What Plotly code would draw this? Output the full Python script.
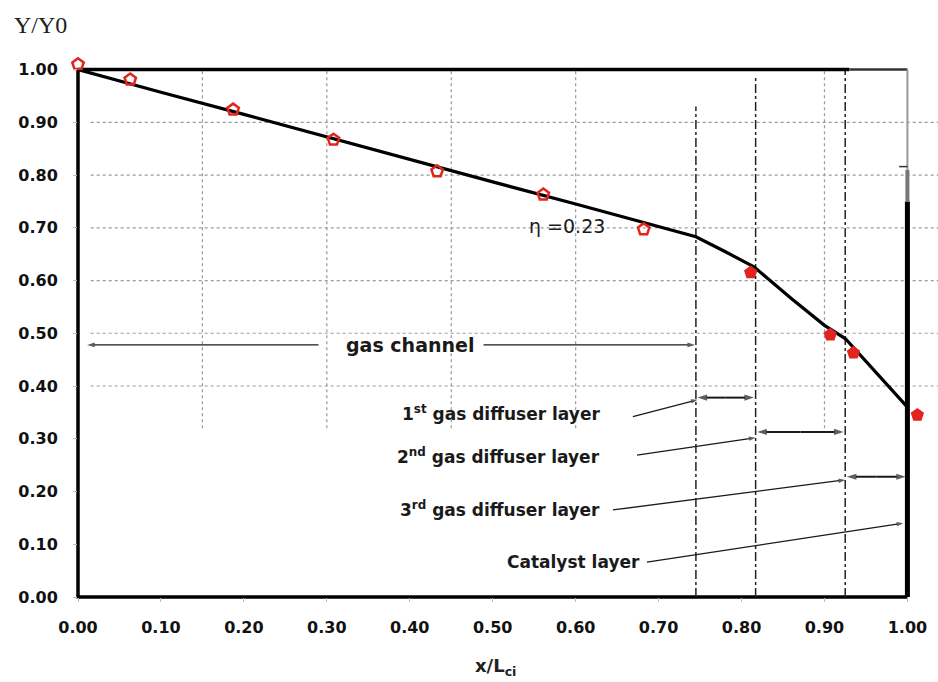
import plotly.graph_objects as go

# ---- data ----
curve_x = [0.0, 0.05, 0.10, 0.20, 0.30, 0.40, 0.50, 0.60, 0.70, 0.745, 0.78, 0.815, 0.86, 0.90, 0.925, 0.96, 1.0]
curve_y = [1.0, 0.978, 0.957, 0.915, 0.872, 0.830, 0.787, 0.745, 0.702, 0.683, 0.655, 0.626, 0.566, 0.515, 0.490, 0.430, 0.360]

pts_x = [0.0, 0.063, 0.187, 0.308, 0.433, 0.561, 0.682, 0.811, 0.907, 0.935, 1.012]
pts_y = [1.01, 0.981, 0.924, 0.867, 0.807, 0.763, 0.697, 0.615, 0.497, 0.463, 0.345]
pts_filled = [False, False, False, False, False, False, False, True, True, True, True]

layer_bounds = [0.745, 0.817, 0.925, 1.0]
layer_names = ["1<sup>st</sup> gas diffuser layer", "2<sup>nd</sup> gas diffuser layer",
               "3<sup>rd</sup> gas diffuser layer", "Catalyst layer"]
layer_label_pos = [(0.632, 0.349), (0.632, 0.267), (0.632, 0.167), (0.68, 0.066)]
layer_leaders = [((0.669, 0.342), (0.747, 0.374)),
                 ((0.674, 0.269), (0.817, 0.302)),
                 ((0.645, 0.165), (0.925, 0.222)),
                 ((0.686, 0.066), (0.995, 0.140))]
layer_span_y = [0.378, 0.313, 0.228]

channel_y = 0.478
channel_arrows = [(0.29, 0.011), (0.489, 0.744)]

y_ticks = [0.0, 0.1, 0.2, 0.3, 0.4, 0.5, 0.6, 0.7, 0.8, 0.9, 1.0]
x_ticks = [0.0, 0.1, 0.2, 0.3, 0.4, 0.5, 0.6, 0.7, 0.8, 0.9, 1.0]
grid_x = [0.15, 0.30, 0.45, 0.60, 0.90]
grid_y = [0.4, 0.5, 0.6, 0.7, 0.8, 0.9]

X_MAX = 1.02
Y_MAX = 1.02

RED = "#e3241e"
INK = "#1a1a1a"
fig = go.Figure()


def add_arrow(x0, y0, x1, y1, width=1.3, size=8):
    fig.add_trace(go.Scatter(
        x=[x0, x1], y=[y0, y1], mode="lines+markers",
        line=dict(color=INK, width=width),
        marker=dict(symbol=["circle", "arrow"], size=[0, size], angleref="previous", color=INK,
                    line=dict(width=0)),
        showlegend=False, hoverinfo="skip", cliponaxis=False))


fig.add_trace(go.Scatter(x=curve_x, y=curve_y, mode="lines",
                         line=dict(color="black", width=3.2), showlegend=False,
                         cliponaxis=False))
fig.add_trace(go.Scatter(
    x=[x for x, f in zip(pts_x, pts_filled) if not f],
    y=[y for y, f in zip(pts_y, pts_filled) if not f],
    mode="markers", marker=dict(symbol="pentagon-open", size=12, color=RED, line=dict(width=2.5, color=RED)),
    showlegend=False, cliponaxis=False))
fig.add_trace(go.Scatter(
    x=[x for x, f in zip(pts_x, pts_filled) if f],
    y=[y for y, f in zip(pts_y, pts_filled) if f],
    mode="markers", marker=dict(symbol="pentagon", size=14, color=RED),
    showlegend=False, cliponaxis=False))

for tail, head in channel_arrows:
    add_arrow(tail, channel_y, head, channel_y, width=1.3, size=8)

for i in range(4):
    (tx, ty), (hx, hy) = layer_leaders[i]
    add_arrow(tx, ty, hx, hy, width=1.3, size=7)
    if i < 3:
        a, b = layer_bounds[i], layer_bounds[i + 1]
        mid = (a + b) / 2
        add_arrow(mid, layer_span_y[i], a + 0.002, layer_span_y[i], width=2, size=10)
        add_arrow(mid, layer_span_y[i], b - 0.002, layer_span_y[i], width=2, size=10)

px1 = 1.0 / X_MAX   # paper position of x = 1.0
py1 = 1.0 / Y_MAX   # paper position of y = 1.0

shapes = []
for gx in grid_x:
    shapes.append(dict(type="line", xref="x", yref="y", x0=gx, x1=gx, y0=0.32, y1=1.0,
                       line=dict(color="#9a9a9a", width=1.2, dash="dot"), layer="below"))
for gy in grid_y:
    shapes.append(dict(type="line", xref="paper", yref="y", x0=0.015, x1=1.02, y0=gy, y1=gy,
                       line=dict(color="#9a9a9a", width=1.2, dash="dot"), layer="below"))
tops = [0.93, 0.985, 1.0]
for bx, top in zip(layer_bounds[:3], tops):
    shapes.append(dict(type="line", xref="x", yref="y", x0=bx, x1=bx, y0=0, y1=top,
                       line=dict(color="#222", width=1.5, dash="dashdot"), layer="below"))
# frame
shapes += [
    dict(type="line", xref="paper", yref="paper", x0=0, x1=px1, y0=0, y1=0,
         line=dict(color="black", width=3.5), layer="below"),
    dict(type="line", xref="paper", yref="paper", x0=0, x1=0, y0=-0.003, y1=py1,
         line=dict(color="black", width=3.5), layer="below"),
    dict(type="line", xref="x", yref="y", x0=0, x1=0.93, y0=1.0, y1=1.0,
         line=dict(color="black", width=3.5), layer="below"),
    dict(type="line", xref="x", yref="y", x0=0.93, x1=1.0, y0=1.0, y1=1.0,
         line=dict(color="#333", width=2.5), layer="below"),
    dict(type="line", xref="x", yref="y", x0=1.0, x1=1.0, y0=0, y1=0.75,
         line=dict(color="black", width=5), layer="below"),
    dict(type="line", xref="x", yref="y", x0=1.0, x1=1.0, y0=0.75, y1=0.81,
         line=dict(color="#777", width=4), layer="below"),
    dict(type="line", xref="x", yref="y", x0=1.0, x1=1.0, y0=0.81, y1=1.0,
         line=dict(color="#999", width=2), layer="below"),
    dict(type="line", xref="x", yref="y", x0=0.99, x1=1.0, y0=0.816, y1=0.816,
         line=dict(color="#333", width=1.5), layer="below"),
]

ann = []
TXT = dict(family="DejaVu Sans", size=17, color=INK, weight="bold")
ann.append(dict(x=0.589, y=0.704, xref="x", yref="y", text="η =0.23", showarrow=False,
                font=dict(family="DejaVu Sans", size=19, color=INK)))
ann.append(dict(x=0.40, y=channel_y, xref="x", yref="y", text="gas channel", showarrow=False,
                font=dict(family="DejaVu Sans", size=19, color=INK, weight="bold")))
for i, name in enumerate(layer_names):
    lx, ly = layer_label_pos[i]
    ann.append(dict(x=lx, y=ly, xref="x", yref="y", text=name, showarrow=False,
                    xanchor="right", font=TXT))

plot_w = 829 * X_MAX
plot_h = 527 * Y_MAX
ann.append(dict(x=0.0, y=py1, xref="paper", yref="paper", xshift=-38, yshift=45, text="Y/Y0",
                showarrow=False, yanchor="middle", xanchor="center",
                font=dict(family="Liberation Serif", size=24, color="#222")))
ann.append(dict(x=0.503 / X_MAX, y=0.0, xref="paper", yref="paper", yshift=-70, text="x/L<sub>ci</sub>",
                showarrow=False, yanchor="middle", xanchor="center",
                font=dict(family="DejaVu Sans", size=18, color="#222", weight="bold")))

fig.update_layout(
    width=938, height=682,
    margin=dict(l=78, r=938 - 78 - plot_w, t=682 - 85 - plot_h, b=85),
    paper_bgcolor="white", plot_bgcolor="white",
    shapes=shapes, annotations=ann, showlegend=False,
    xaxis=dict(range=[0, X_MAX], tickvals=x_ticks, ticktext=[f"{v:.2f}" for v in x_ticks],
               showgrid=False, zeroline=False, showline=False,
               ticks="outside", ticklen=4, tickcolor="#bbb", ticklabelstandoff=12,
               tickfont=dict(family="DejaVu Sans", size=16, color="#111", weight="bold")),
    yaxis=dict(range=[0, Y_MAX], tickvals=y_ticks, ticktext=[f"{v:.2f}" for v in y_ticks],
               showgrid=False, zeroline=False, showline=False,
               ticks="outside", ticklen=4, tickcolor="#bbb", ticklabelstandoff=12,
               tickfont=dict(family="DejaVu Sans", size=16, color="#111", weight="bold")),
)

fig.write_html("out.html")
